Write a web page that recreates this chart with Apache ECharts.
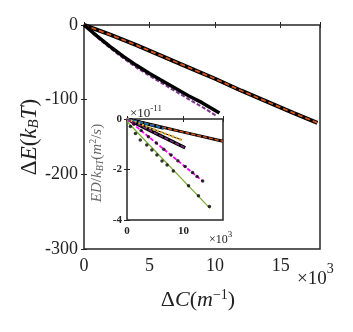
<!DOCTYPE html>
<html>
<head>
<meta charset="utf-8">
<script src="https://cdn.jsdelivr.net/npm/echarts@6/dist/echarts.min.js"></script>
<style>
  html, body { margin: 0; padding: 0; background: #fff; }
  #chart { width: 353px; height: 332px; }
</style>
</head>
<body>
<div id="chart"></div>
<script>
  // main plot: dE (kBT) vs dC (1/m)
  const mainXTicks = [0, 5000, 10000, 15000];
  const mainYTicks = [-300, -200, -100, 0];
  const mainBlackA = [[0, 0], [2000, -13], [4000, -27], [6000, -42], [8000, -57], [10000, -72], [12000, -88], [14000, -103], [16000, -118], [17800, -131]];
  const mainOrange = [[0, 0], [2000, -13], [4000, -27], [6000, -42], [8000, -57], [10000, -72], [12000, -88], [14000, -103], [16000, -118], [17800, -131]];
  const mainBlackB = [[0, 0], [1000, -15], [2000, -29], [3000, -42], [4000, -54], [5000, -65], [6000, -75], [7000, -85], [8000, -95], [9000, -104], [10330, -118]];
  const mainPurple = [[0, 0], [1000, -16.5], [2000, -31], [3000, -44.5], [4000, -57], [5000, -68], [6000, -78.5], [7000, -89], [8000, -99.5], [9000, -109.5], [10130, -122]];

  // inset: ED/kBT (x1e-11 m^2/s) vs dC (x1e3)
  const insetXTicks = [0, 10];
  const insetYTicks = [-4, -2, 0];
  const insetOrange = [[0, 0], [5, -0.26], [10, -0.52], [17, -0.88]];
  const insetBlue = [[0, 0], [3, -0.17], [6.5, -0.37]];
  const insetYellow = [[0, 0], [5, -0.43], [9.7, -0.83]];
  const insetPurple = [[0, 0], [3, -0.33], [6, -0.67], [10.3, -1.14]];
  const insetMagenta = [[0, 0], [13.4, -2.46]];
  const magentaDots = [[1.2, -0.2], [2.5, -0.46], [3.8, -0.7], [5.2, -0.95], [6.5, -1.2], [7.8, -1.43], [9.0, -1.65], [10.3, -1.88], [11.6, -2.12], [12.4, -2.28], [13.4, -2.46]];
  const insetGreen = [[0, -0.1], [14.7, -3.54]];
  const greenDots = [[0.6, -0.3], [1.5, -0.57], [2.35, -0.83], [3.5, -1.03], [4.4, -1.23], [5.3, -1.43], [6.2, -1.66], [7.1, -1.82], [8.2, -2.06], [10.9, -2.64], [12.65, -3.04], [14.6, -3.47]];

  const serif = 'Liberation Serif';
  const axisCol = '#262626';

  const chart = echarts.init(document.getElementById('chart'));

  function line(data, xi, color, width, dash, z) {
    return {
      type: 'line', data: data, xAxisIndex: xi, yAxisIndex: xi,
      showSymbol: false, symbol: 'none', z: z, silent: true,
      lineStyle: {color: color, width: width, type: dash || 'solid'}
    };
  }
  function dots(data, xi, z) {
    return {
      type: 'scatter', data: data, xAxisIndex: xi, yAxisIndex: xi,
      symbolSize: 3.5, z: z, silent: true,
      itemStyle: {color: '#000'}
    };
  }
  function hideOthers(ticks, fmt) {
    return v => ticks.indexOf(v) >= 0 ? fmt(v) : '';
  }
  const boxAxis = (pos, grid, min, max, interval) => ({
    type: 'value', position: pos, gridIndex: grid, min: min, max: max, interval: interval,
    axisLine: {show: false}, splitLine: {show: false}, axisLabel: {show: false},
    axisTick: {inside: true, length: 3, lineStyle: {color: axisCol, width: 1}}
  });

  chart.setOption({
    animation: false,
    grid: [
      {left: 84, top: 25, width: 236, height: 224, show: true, borderColor: axisCol, borderWidth: 1.5, backgroundColor: '#fff', z: 0},
      {left: 127, top: 119, width: 96, height: 101, show: true, borderColor: axisCol, borderWidth: 1.5, backgroundColor: '#fff', z: 5}
    ],
    xAxis: [
      {
        type: 'value', gridIndex: 0, min: 0, max: 18000, interval: 5000,
        axisLine: {show: false}, splitLine: {show: false},
        axisTick: {inside: true, length: 3, lineStyle: {color: axisCol}},
        axisLabel: {margin: 8, fontFamily: serif, fontSize: 18, color: '#222',
          formatter: hideOthers(mainXTicks, v => String(v / 1000))}
      },
      boxAxis('top', 0, 0, 18000, 5000),
      {
        type: 'value', gridIndex: 1, min: 0, max: 17, interval: 10, z: 6,
        axisLine: {show: false}, splitLine: {show: false},
        axisTick: {inside: true, length: 3, lineStyle: {color: axisCol}},
        axisLabel: {margin: 6, fontFamily: serif, fontSize: 11, fontWeight: 'bold', color: '#222',
          formatter: hideOthers(insetXTicks, v => String(v))}
      },
      Object.assign(boxAxis('top', 1, 0, 17, 10), {z: 6})
    ],
    yAxis: [
      {
        type: 'value', gridIndex: 0, min: -300, max: 0, interval: 100,
        axisLine: {show: false}, splitLine: {show: false},
        axisTick: {inside: true, length: 3, lineStyle: {color: axisCol}},
        axisLabel: {margin: 6, fontFamily: serif, fontSize: 18, color: '#222',
          formatter: hideOthers(mainYTicks, v => String(v))}
      },
      boxAxis('right', 0, -300, 0, 100),
      {
        type: 'value', gridIndex: 1, min: -4, max: 0, interval: 2, z: 6,
        axisLine: {show: false}, splitLine: {show: false},
        axisTick: {inside: true, length: 3, lineStyle: {color: axisCol}},
        axisLabel: {margin: 5, fontFamily: serif, fontSize: 11, fontWeight: 'bold', color: '#222',
          formatter: hideOthers(insetYTicks, v => String(v))}
      },
      Object.assign(boxAxis('right', 1, -4, 0, 2), {z: 6})
    ],
    series: [
      line(mainBlackA, 0, '#000', 4, 'solid', 2),
      line(mainOrange, 0, '#D95319', 1.8, [5, 3], 3),
      line(mainPurple, 0, '#7E2F8E', 2, [4, 2], 2),
      line(mainBlackB, 0, '#000', 3.5, 'solid', 3),

      line(insetOrange, 2, '#000', 3, 'solid', 7),
      line(insetOrange, 2, '#D95319', 1.5, [4, 2], 8),
      line(insetBlue, 2, '#000', 3, 'solid', 7),
      line(insetBlue, 2, '#0072BD', 2, [4, 2], 8),
      line(insetYellow, 2, '#000', 1, 'solid', 7),
      line(insetYellow, 2, '#EDB120', 2.5, [2, 2], 8),
      line(insetPurple, 2, '#000', 3.5, 'solid', 7),
      line(insetPurple, 2, '#7E2F8E', 1.5, [4, 2], 8),
      line(insetMagenta, 2, '#FF00FF', 1.8, [4, 2], 7),
      dots(magentaDots, 2, 8),
      line(insetGreen, 2, '#77AC30', 1.2, 'solid', 7),
      dots(greenDots, 2, 8)
    ],
    graphic: [
      {
        type: 'text', left: 297, top: 262, z: 10,
        style: {text: '{a|×10}{s|3}', rich: {
          a: {fontFamily: serif, fontSize: 19, fill: '#222', verticalAlign: 'bottom', padding: [8, 0, 0, 0]},
          s: {fontFamily: serif, fontSize: 14, fill: '#222', verticalAlign: 'top'}
        }}
      },
      {
        type: 'text', x: 198, y: 300, z: 10,
        style: {text: '{n|Δ}{i|C}{n|(}{i|m}{s|−1}{n|)}', align: 'center', verticalAlign: 'middle', rich: {
          n: {fontFamily: serif, fontSize: 22, fill: '#222'},
          i: {fontFamily: serif, fontSize: 22, fontStyle: 'italic', fill: '#222'},
          s: {fontFamily: serif, fontSize: 14, fill: '#222', padding: [0, 0, 10, 0]}
        }}
      },
      {
        type: 'text', x: 30, y: 137, rotation: Math.PI / 2, z: 10,
        style: {text: '{n|Δ}{i|E}{n|(}{i|k}{b|B}{i|T}{n|)}', align: 'center', verticalAlign: 'middle', rich: {
          n: {fontFamily: serif, fontSize: 23, fill: '#222'},
          i: {fontFamily: serif, fontSize: 23, fontStyle: 'italic', fill: '#222'},
          b: {fontFamily: serif, fontSize: 15, fontStyle: 'italic', fill: '#222', padding: [9, 0, 0, 0]}
        }}
      },
      {
        type: 'text', left: 130, top: 104, z: 10,
        style: {text: '{a|×10}{s|-11}', rich: {
          a: {fontFamily: serif, fontSize: 13, fill: '#222', padding: [5, 0, 0, 0]},
          s: {fontFamily: serif, fontSize: 9, fill: '#222', padding: [0, 0, 6, 0]}
        }}
      },
      {
        type: 'text', left: 209, top: 230, z: 10,
        style: {text: '{a|×10}{s|3}', rich: {
          a: {fontFamily: serif, fontSize: 12, fill: '#222', padding: [5, 0, 0, 0]},
          s: {fontFamily: serif, fontSize: 9, fill: '#222', padding: [0, 0, 6, 0]}
        }}
      },
      {
        type: 'text', x: 97, y: 163, rotation: Math.PI / 2, z: 10,
        style: {text: '{i|ED}{n|/}{i|k}{b|BT}{n|(}{i|m}{s|2}{n|/}{i|s}{n|)}', align: 'center', verticalAlign: 'middle', rich: {
          n: {fontFamily: serif, fontSize: 15, fill: '#666'},
          i: {fontFamily: serif, fontSize: 15, fontStyle: 'italic', fill: '#666'},
          b: {fontFamily: serif, fontSize: 10, fontStyle: 'italic', fill: '#666', padding: [6, 0, 0, 0]},
          s: {fontFamily: serif, fontSize: 10, fill: '#666', padding: [0, 0, 7, 0]}
        }}
      }
    ]
  });
</script>
</body>
</html>
